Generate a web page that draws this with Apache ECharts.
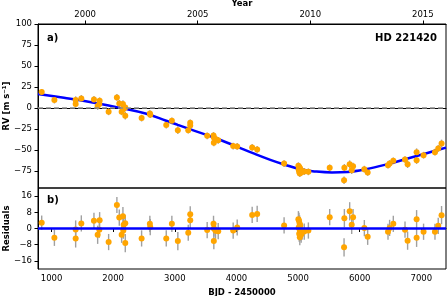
<!DOCTYPE html>
<html><head><meta charset="utf-8">
<script src="https://cdn.jsdelivr.net/npm/echarts@6/dist/echarts.min.js"></script>
<style>html,body{margin:0;padding:0;background:#fff}#c{width:447px;height:296px}</style>
</head><body><div id="c"></div>
<script>
// Observations: BJD - 2450000, RV [m/s], residual [m/s], error [m/s]
const bjd   = [840,1046,1391,1391,1483,1688,1748,1780,1775,1926,2060,2099,2158,2137,2164,2170,2196,2196,2461,2595,2601,2861,2952,3049,3218,3250,3250,3525,3628,3633,3633,3660,3704,3947,4012,4255,4336,4773,5005,5015,5025,5035,5010,5020,5030,5040,5018,5050,5028,5065,5100,5167,5513,5746,5751,5837,5870,5892,6075,6129,6459,6485,6545,6735,6777,6923,6923,7036,7221,7274,7328];
const rv    = [19.0,9.5,9.5,4.8,11.5,10.3,2.4,8.7,4.8,-4.4,12.7,5.6,4.8,-4.4,-1.5,1.3,0.6,-9.2,-11.9,-6.5,-7.8,-20.2,-15.1,-26.2,-26.2,-17.5,-20.6,-33.0,-32.5,-35.0,-41.3,-36.8,-38.3,-45.2,-45.6,-46.8,-49.2,-65.9,-68.5,-69.8,-71.0,-72.0,-73.0,-73.5,-74.5,-75.5,-76.0,-76.5,-77.8,-75.0,-75.5,-75.8,-71.0,-85.7,-71.0,-66.7,-73.8,-69.0,-72.6,-76.5,-67.9,-65.9,-62.7,-61.1,-66.7,-52.4,-61.9,-56.0,-52.4,-48.0,-42.0];
const resid = [2.9,-4.6,-0.5,-4.9,2.5,3.8,-3.1,4.1,-0.6,-6.7,11.6,5.4,6.1,-3.1,-1.0,1.8,2.6,-7.2,-4.9,2.3,0.7,-4.9,2.3,-6.2,-2.1,7.0,4.1,-0.8,2.3,0.0,-6.2,-1.1,-1.3,-1.0,0.5,6.7,7.2,1.5,4.6,3.8,2.5,1.5,0.5,0.0,-1.0,-2.0,-2.6,-3.0,-4.3,-1.5,-1.5,-1.0,5.6,-9.3,5.1,8.5,1.8,5.6,0.2,-4.1,-1.6,0.3,2.3,-0.6,-6.0,4.6,-4.6,-1.6,-1.6,1.3,6.6];
const err   = [3.5,4,4.5,4.5,4,4,4.5,4,4,4,4,4,4.5,4,4,4,4,4.5,4,4,4,4,4,4.5,4,4,4,4,4,4,4,4,4,4,4,4,4,4,4,4,4,4,4,4,4,4,4,4,4,4,4,4,4,4.5,4.5,4.5,4.5,4,4,4,4,4,4,4,4.5,4.5,4.5,4,4,4,4.5];
// Keplerian model curve
const modelBjd = [780,1200,1600,2131,2525,2861,3049,3300,3633,3947,4300,4550,4773,5050,5300,5550,5800,6100,6470,6750,6923,7221,7400];
const modelRv  = [16.8,12.2,7.5,0,-6.5,-15,-20,-26.5,-35,-44,-54.5,-61.5,-67,-73,-75.5,-76.5,-76,-72.7,-66.3,-60.6,-57,-50.8,-47];
// Axes
const bjdMin = 780, bjdMax = 7400;
const bjdTicks = [1000,2000,3000,4000,5000,6000,7000];
const yearTicks = [2000,2005,2010,2015];
const rvTicks = [-75,-50,-25,0,25,50,75,100];
const resTicks = [-16,-8,0,8,16];

const FONT = 'DejaVu Sans';
const yearMin = 2000 + (bjdMin - 1545) / 365.25;
const yearMax = 2000 + (bjdMax - 1545) / 365.25;

const obs = bjd.map((x,i)=>[x, rv[i], err[i]]);
const res = bjd.map((x,i)=>[x, resid[i], err[i]]);
const model = modelBjd.map((x,i)=>[x, modelRv[i]]);

function errBar(params, api){
  const x = api.value(0), y = api.value(1), e = api.value(2);
  const p1 = api.coord([x, y - e]), p2 = api.coord([x, y + e]);
  return {type:'line', shape:{x1:p1[0],y1:p1[1],x2:p2[0],y2:p2[1]}, style:{stroke:'#a0a0a0', lineWidth:1.4}};
}
const fmt = v => String(Math.round(v)).replace('-', '\u2212');

const axLine = {show:true, lineStyle:{color:'#000', width:1}};
const axTick = {show:true, length:3.5, lineStyle:{color:'#000', width:1}};
const lbl = {fontFamily:FONT, fontSize:8.5, color:'#000', formatter:fmt};
const nameStyle = {fontFamily:FONT, fontSize:8.5, fontWeight:'bold', color:'#000'};

const chart = echarts.init(document.getElementById('c'), null, {renderer:'canvas'});
chart.setOption({
  animation:false,
  backgroundColor:'#fff',
  grid:[
    {left:38, top:24, right:1, height:164, show:true, borderColor:'#000', borderWidth:1, backgroundColor:'transparent', containLabel:false, outerBoundsMode:'none'},
    {left:38, top:188, right:1, height:81, show:true, borderColor:'#000', borderWidth:1, backgroundColor:'transparent', containLabel:false, outerBoundsMode:'none'}
  ],
  xAxis:[
    {type:'value', gridIndex:0, min:bjdMin, max:bjdMax, axisLine:axLine, axisTick:{show:false}, axisLabel:{show:false}, splitLine:{show:false}},
    {type:'value', gridIndex:0, position:'top', min:yearMin, max:yearMax, axisLine:axLine,
      axisTick:Object.assign({customValues:yearTicks}, axTick),
      axisLabel:Object.assign({customValues:yearTicks, margin:5}, lbl), splitLine:{show:false},
      name:'Year', nameLocation:'middle', nameGap:16, nameMoveOverlap:false, nameTextStyle:nameStyle},
    {type:'value', gridIndex:1, min:bjdMin, max:bjdMax, axisLine:axLine,
      axisTick:Object.assign({customValues:bjdTicks}, axTick),
      axisLabel:Object.assign({customValues:bjdTicks, margin:5}, lbl), splitLine:{show:false},
      name:'BJD - 2450000', nameLocation:'middle', nameGap:19, nameTextStyle:nameStyle}
  ],
  yAxis:[
    {type:'value', gridIndex:0, min:-95, max:100, axisLine:axLine,
      axisTick:Object.assign({customValues:rvTicks}, axTick),
      axisLabel:Object.assign({customValues:rvTicks, margin:6}, lbl), splitLine:{show:false},
      name:'RV [m s\u207B\u00B9]', nameLocation:'middle', nameGap:27, nameMoveOverlap:false, nameTextStyle:nameStyle},
    {type:'value', gridIndex:1, min:-20, max:20, axisLine:axLine,
      axisTick:Object.assign({customValues:resTicks}, axTick),
      axisLabel:Object.assign({customValues:resTicks, margin:6}, lbl), splitLine:{show:false},
      name:'Residuals', nameLocation:'middle', nameGap:27, nameMoveOverlap:false, nameTextStyle:nameStyle}
  ],
  series:[
    {type:'custom', xAxisIndex:0, yAxisIndex:0, renderItem:errBar, data:obs, encode:{x:0,y:1}, silent:true, z:1},
    {type:'line', xAxisIndex:0, yAxisIndex:0, data:model, showSymbol:false, smooth:0.4,
      lineStyle:{color:'#0000ff', width:2.5}, z:2, silent:true,
      markLine:{silent:true, symbol:'none', label:{show:false}, lineStyle:{color:'#8c8c8c', type:[5,3], width:1.5}, data:[{yAxis:0}]}},
    {type:'scatter', xAxisIndex:0, yAxisIndex:0, data:obs, symbolSize:6, itemStyle:{color:'#ffa500', opacity:1}, z:3, silent:true},
    {type:'custom', xAxisIndex:2, yAxisIndex:1, renderItem:errBar, data:res, encode:{x:0,y:1}, silent:true, z:1},
    {type:'line', xAxisIndex:2, yAxisIndex:1, data:[], showSymbol:false, z:2, silent:true,
      markLine:{silent:true, symbol:'none', label:{show:false}, lineStyle:{color:'#0000ff', type:'solid', width:2.5}, data:[{yAxis:0}]}},
    {type:'scatter', xAxisIndex:2, yAxisIndex:1, data:res, symbolSize:6, itemStyle:{color:'#ffa500', opacity:1}, z:3, silent:true}
  ],
  graphic:[
    {type:'text', left:47, top:33, style:{text:'a)', fontFamily:FONT, fontSize:10, fontWeight:'bold', fill:'#000'}},
    {type:'text', right:10, top:33, style:{text:'HD 221420', fontFamily:FONT, fontSize:10, fontWeight:'bold', fill:'#000'}},
    {type:'text', left:47, top:195, style:{text:'b)', fontFamily:FONT, fontSize:10, fontWeight:'bold', fill:'#000'}}
  ]
});
</script>
</body></html>
